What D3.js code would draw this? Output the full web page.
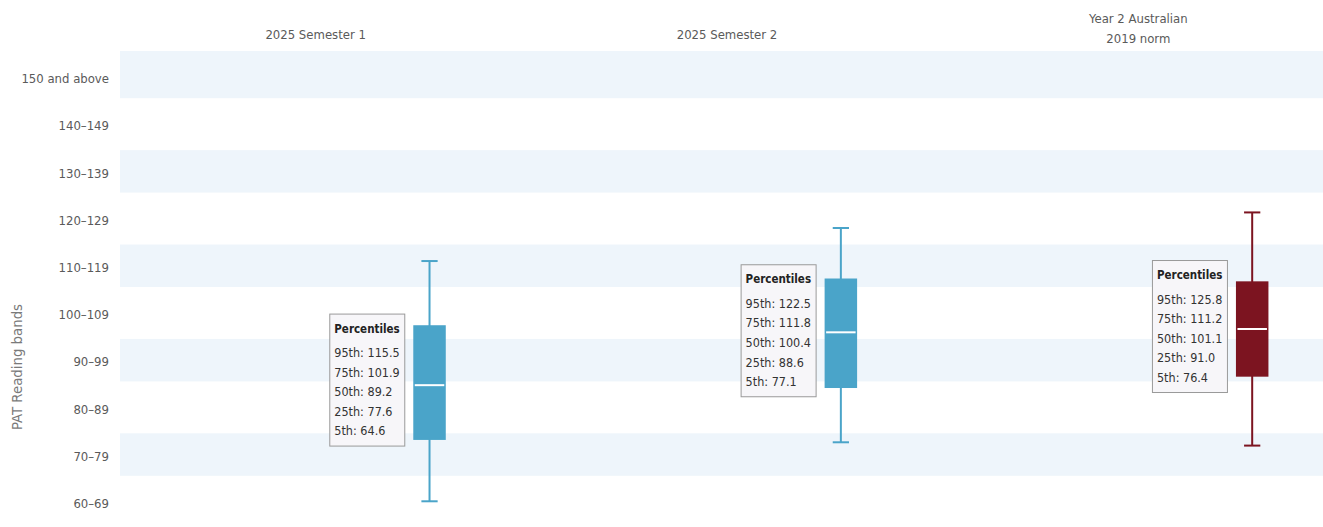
<!DOCTYPE html>
<html>
<head>
<meta charset="utf-8">
<script src="https://cdn.jsdelivr.net/npm/d3@7"></script>
<style>
  html, body { margin: 0; padding: 0; background: #ffffff; }
  svg { display: block; }
  text { font-family: "DejaVu Sans Condensed", "DejaVu Sans", sans-serif; }
</style>
</head>
<body>
<svg id="chart" width="1323" height="527"></svg>
<script>
// ---- data ----
const categories = ["2025 Semester 1", "2025 Semester 2", "Year 2 Australian\n2019 norm"];
const p5  = [64.6, 77.1, 76.4];
const p25 = [77.6, 88.6, 91.0];
const p50 = [89.2, 100.4, 101.1];
const p75 = [101.9, 111.8, 111.2];
const p95 = [115.5, 122.5, 125.8];
const boxColors = ["#4aa4c9", "#4aa4c9", "#7c1420"];
const bandStarts = [60, 70, 80, 90, 100, 110, 120, 130, 140, 150];
const bandLabels = ["60–69", "70–79", "80–89", "90–99", "100–109", "110–119", "120–129", "130–139", "140–149", "150 and above"];
const yAxisTitle = "PAT Reading bands";
const percentileNames = ["95th", "75th", "50th", "25th", "5th"];
const tooltipTitle = "Percentiles";

// ---- layout ----
const W = 1323, H = 527;
const plotLeft = 120, plotRight = W, plotTop = 51, plotBottom = 523;
const yMin = 60, yMax = 160;

const svg = d3.select("#chart");
const y = d3.scaleLinear().domain([yMin, yMax]).range([plotBottom, plotTop]);
const x = d3.scaleBand().domain(categories).range([110, 1344]).padding(0);
const bw = x.bandwidth();
const boxOffset = bw * 0.7768;
const boxW = bw * 0.079;
const capW = boxW / 2;

// alternating stripes
const stripes = bandStarts.map((s, i) => ({ s, i, e: i === bandStarts.length - 1 ? yMax : s + 9 }))
  .filter(d => d.i % 2 === 1);
svg.append("g").selectAll("rect").data(stripes).join("rect")
  .attr("x", plotLeft).attr("width", plotRight - plotLeft)
  .attr("y", d => y(d.e)).attr("height", d => y(d.s) - y(d.e))
  .attr("fill", "#eef5fb");

// y axis labels
svg.append("g").selectAll("text").data(bandStarts).join("text")
  .attr("x", 109).attr("y", d => y(d + 5) + 4)
  .attr("text-anchor", "end").attr("dominant-baseline", "central")
  .attr("font-size", 13).attr("fill", "#5a5a5a")
  .text((d, i) => bandLabels[i]);

// y axis title
svg.append("text")
  .attr("transform", "translate(16,367) rotate(-90)")
  .attr("text-anchor", "middle").attr("dominant-baseline", "central")
  .attr("font-size", 14.8).attr("fill", "#7a7a7a")
  .text(yAxisTitle);

// category labels
categories.forEach(c => {
  const lines = c.split("\n");
  const n = lines.length;
  const g = svg.append("text")
    .attr("text-anchor", "middle").attr("font-size", 13).attr("fill", "#5a5a5a");
  lines.forEach((ln, i) => {
    g.append("tspan")
      .attr("x", x(c) + bw / 2)
      .attr("y", 34.3 - (n - 1 - i) * 20.4 + (n - 1) * 4.4)
      .attr("dominant-baseline", "central")
      .text(ln);
  });
});

// box plots
const boxes = categories.map((c, i) => ({ c, i, lo: p5[i], q1: p25[i], med: p50[i], q3: p75[i], hi: p95[i], col: boxColors[i] }));
const gb = svg.append("g").selectAll("g").data(boxes).join("g")
  .attr("transform", d => `translate(${x(d.c) + boxOffset},0)`);

gb.append("line").attr("x1", 0).attr("x2", 0)
  .attr("y1", d => y(d.hi)).attr("y2", d => y(d.lo))
  .attr("stroke", d => d.col).attr("stroke-width", 2);
gb.append("line").attr("x1", -capW / 2).attr("x2", capW / 2)
  .attr("y1", d => y(d.hi)).attr("y2", d => y(d.hi))
  .attr("stroke", d => d.col).attr("stroke-width", 2);
gb.append("line").attr("x1", -capW / 2).attr("x2", capW / 2)
  .attr("y1", d => y(d.lo)).attr("y2", d => y(d.lo))
  .attr("stroke", d => d.col).attr("stroke-width", 2);
gb.append("rect")
  .attr("x", -boxW / 2).attr("width", boxW)
  .attr("y", d => y(d.q3)).attr("height", d => y(d.q1) - y(d.q3))
  .attr("fill", d => d.col);
gb.append("line").attr("x1", -boxW / 2 + 1.5).attr("x2", boxW / 2 - 1.5)
  .attr("y1", d => y(d.med)).attr("y2", d => y(d.med))
  .attr("stroke", "#ffffff").attr("stroke-width", 2);

// percentile labels
const tipW = 75, tipH = 132;
const tips = gb.append("g")
  .attr("transform", d => `translate(${-boxW / 2 - 9 - tipW},${(y(d.q1) + y(d.q3)) / 2 - 3 - tipH / 2})`);
tips.append("rect")
  .attr("x", 0.5).attr("y", 0.5).attr("width", tipW).attr("height", tipH)
  .attr("fill", "#f7f6f9").attr("stroke", "#9a9a9a").attr("stroke-width", 1);
tips.append("text")
  .attr("x", 5).attr("y", 15).attr("dominant-baseline", "central")
  .attr("font-size", 11.5).attr("font-weight", "bold").attr("fill", "#222")
  .text(tooltipTitle);
tips.each(function (d) {
  const vals = [d.hi, d.q3, d.med, d.q1, d.lo];
  d3.select(this).selectAll("text.v").data(vals).join("text")
    .attr("class", "v")
    .attr("x", 5).attr("y", (v, k) => 39 + k * 19.6)
    .attr("dominant-baseline", "central")
    .attr("font-size", 12.5).attr("fill", "#333")
    .text((v, k) => `${percentileNames[k]}: ${v.toFixed(1)}`);
});
</script>
</body>
</html>
